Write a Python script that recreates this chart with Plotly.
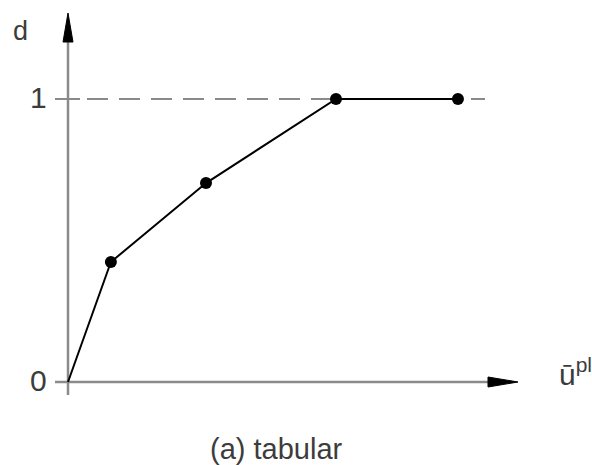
import plotly.graph_objects as go

# Tabular damage evolution: damage d versus equivalent plastic displacement
u_pl = [0.0, 0.16, 0.515, 1.0, 1.455]
damage = [0.0, 0.424, 0.703, 1.0, 1.0]
y_ticks = [0, 1]
y_tick_labels = ["0", "1"]

W, H = 592, 465
X0, Y0, SX, SY = 68, 382, 268, 283  # pixel origin and scale of one unit


def px(x):
    return (x - X0) / SX


def py(y):
    return (Y0 - y) / SY


x_range = [px(0), px(W)]
y_range = [py(H), py(0)]
axis_grey = "#8a8a8a"
text_col = "#3c3c3c"
font = "Liberation Sans, Arial, sans-serif"

fig = go.Figure()

# guide at d = 1: short solid tick, then dashes out past the last point
fig.add_shape(type="line", x0=px(55), x1=px(80), y0=1, y1=1,
              line=dict(color=axis_grey, width=2), layer="below")
fig.add_shape(type="line", x0=px(87), x1=px(485), y0=1, y1=1,
              line=dict(color=axis_grey, width=2, dash="21px,11px"), layer="below")

# axes
fig.add_shape(type="line", x0=px(55), x1=px(492), y0=0, y1=0,
              line=dict(color=axis_grey, width=2.5), layer="below")
fig.add_shape(type="line", x0=0, x1=0, y0=py(395), y1=py(40),
              line=dict(color=axis_grey, width=2.5), layer="below")

# arrowheads
xa0, xa1 = px(488), px(518)
fig.add_shape(type="path",
              path=f"M {xa0} {5/SY} L {xa1} 0 L {xa0} {-5/SY} Z",
              fillcolor="black", line=dict(color="black", width=1))
ya0, ya1 = py(42), py(13)
fig.add_shape(type="path",
              path=f"M {-5/SX} {ya0} L 0 {ya1} L {5/SX} {ya0} Z",
              fillcolor="black", line=dict(color="black", width=1))

# curve
fig.add_trace(go.Scatter(x=u_pl, y=damage, mode="lines",
                         line=dict(color="black", width=2), hoverinfo="skip"))
fig.add_trace(go.Scatter(x=u_pl[1:], y=damage[1:], mode="markers",
                         marker=dict(color="black", size=12), hoverinfo="skip"))

# tick labels
for v, lab in zip(y_ticks, y_tick_labels):
    fig.add_annotation(x=px(49), y=v + 2 / SY, text=lab, showarrow=False,
                       xanchor="right", yanchor="middle",
                       font=dict(family=font, size=30, color=text_col))

# axis titles
fig.add_annotation(x=px(20), y=py(31), text="d", showarrow=False,
                   xanchor="center", yanchor="middle",
                   font=dict(family=font, size=27, color=text_col))
fig.add_annotation(x=px(557), y=py(372),
                   text="ū<sup>pl</sup>", showarrow=False,
                   xanchor="left", yanchor="middle",
                   font=dict(family=font, size=30, color=text_col))
fig.add_annotation(x=px(276), y=py(449), text="(a) tabular",
                   showarrow=False, xanchor="center", yanchor="middle",
                   font=dict(family=font, size=29, color=text_col))

fig.update_layout(
    width=W, height=H, margin=dict(l=0, r=0, t=0, b=0),
    paper_bgcolor="white", plot_bgcolor="white", showlegend=False,
    xaxis=dict(range=x_range, visible=False, fixedrange=True),
    yaxis=dict(range=y_range, visible=False, fixedrange=True),
)

fig.write_html("out.html")
